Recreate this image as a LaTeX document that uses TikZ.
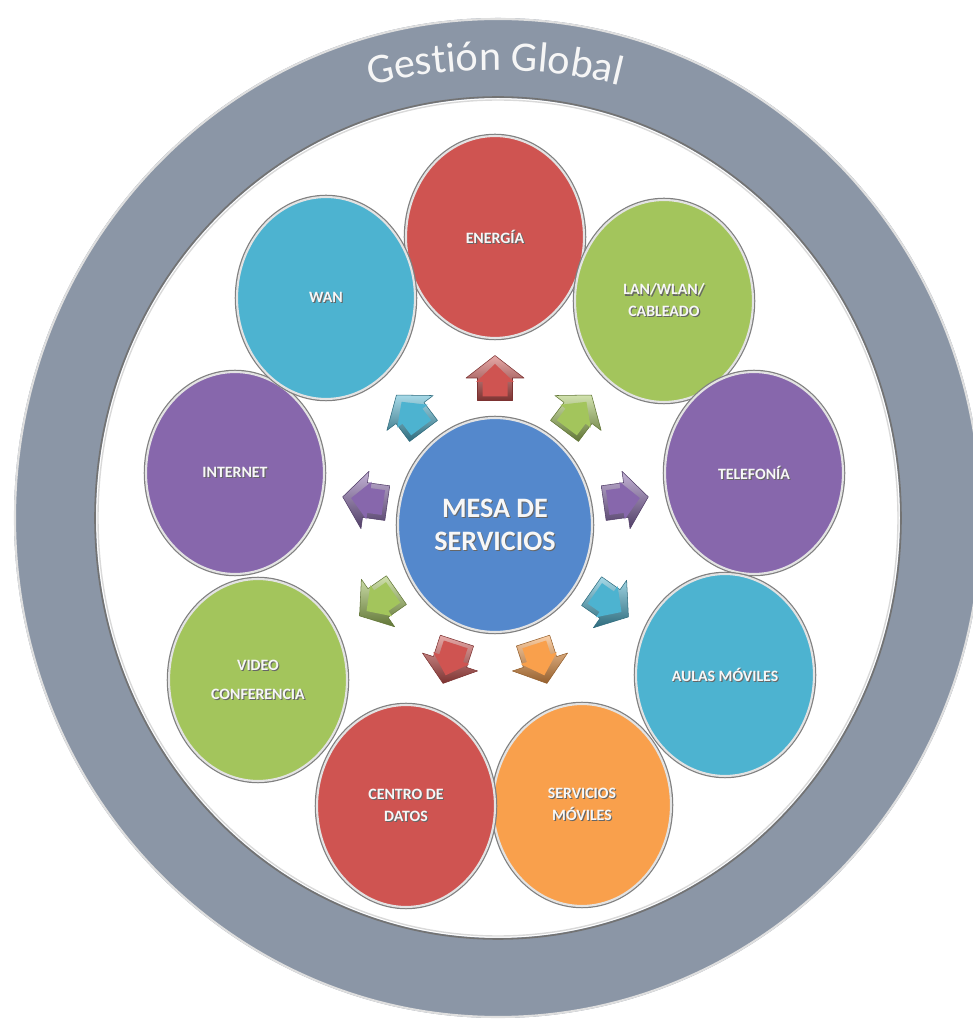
\documentclass[tikz,border=0pt]{standalone}
\usepackage{fontspec}
\setmainfont{Carlito}
\usetikzlibrary{shapes.geometric,decorations.text}
\definecolor{ringgray}{HTML}{8B96A6}
\definecolor{cred}{HTML}{CF5451}
\definecolor{cgreen}{HTML}{A3C55C}
\definecolor{cpurple}{HTML}{8767AC}
\definecolor{ccyan}{HTML}{4DB3D0}
\definecolor{corange}{HTML}{F9A04C}
\definecolor{cblue}{HTML}{5488CC}
\newcommand\shd[1]{\leavevmode\rlap{\kern0.6pt\raisebox{-0.6pt}{\textcolor{black!60}{#1}}}\textcolor{white!94!gray}{#1}}
\newcommand\blockarrow[4]{%
  \begin{scope}[shift={(#1,#2)}, rotate=#3]
    \path[top color=#4!50!white, bottom color=#4!60!black, draw=#4!60!black, line width=0.3pt, line join=round]
      (-22.5,-17.5) -- (0,-17.5) -- (0,-29) -- (22.5,0) -- (0,29) -- (0,17.5) -- (-22.5,17.5) -- cycle;
    \path[fill=#4]
      (-18.5,-12.5) -- (-4,-12.5) -- (-4,-19) -- (14,0) -- (-4,19) -- (-4,12.5) -- (-18.5,12.5) -- cycle;
  \end{scope}}
\tikzset{
  svc/.style={ellipse, inner sep=0pt, minimum width=3.56cm, minimum height=4.04cm,
    fill=#1, draw=white!78!gray, line width=1.2pt,
    preaction={draw=black!50, line width=2.6pt},
    font=\bfseries\fontsize{9}{12.5}\selectfont, align=center},
  hub/.style={ellipse, inner sep=0pt, minimum width=3.88cm, minimum height=4.28cm,
    fill=cblue, draw=white!78!gray, line width=1.2pt,
    preaction={draw=black!50, line width=2.6pt},
    font=\bfseries\fontsize{16}{18.7}\selectfont, align=center}
}
\begin{document}
\begin{tikzpicture}[x=0.02cm, y=0.02cm]
  \useasboundingbox (0,0) rectangle (973,1025);
  \clip (0,0) rectangle (973,1025);
  \fill[white] (0,0) rectangle (973,1025);
  % outer ring
  \path[fill=ringgray, even odd rule]
    (498,507) ellipse [x radius=484, y radius=500]
    (498,507) ellipse [x radius=402, y radius=420];
  \draw[white!75!gray, line width=1.2pt] (498,507) ellipse [x radius=483, y radius=499];
  \draw[black!55, line width=0.9pt] (498,507) ellipse [x radius=403, y radius=421];
  \draw[white!70!gray, line width=0.8pt] (498,507) ellipse [x radius=400, y radius=418];
  % title along the ring
  \path[decorate, decoration={text along path, text align=center,
      text={|\fontsize{24}{24}\selectfont\color{white!93!gray}|Gestión Global}}]
    (277.4,906.7) arc[start angle=115, end angle=65, radius=515];
  % block arrows
  \blockarrow{495}{647}{90}{cred}
  \blockarrow{410}{612}{127}{ccyan}
  \blockarrow{578}{612}{53}{cgreen}
  \blockarrow{626}{525}{8}{cpurple}
  \blockarrow{610}{421}{-35}{ccyan}
  \blockarrow{540}{363}{-72}{corange}
  \blockarrow{450}{363}{-108}{cred}
  \blockarrow{378}{422}{-145}{cgreen}
  \blockarrow{365}{525}{172}{cpurple}
  % service nodes
  \node[svc=cred]    (energia)  at (495,788) {\shd{ENERGÍA}};
  \node[svc=cgreen]  (lan)      at (664,724) {\shd{LAN/WLAN/}\\\shd{CABLEADO}};
  \node[svc=cpurple] (telefonia) at (754,552) {\shd{TELEFONÍA}};
  \node[svc=ccyan]   (aulas)    at (725,350) {\shd{AULAS MÓVILES}};
  \node[svc=corange] (servmov)  at (582,220) {\shd{SERVICIOS}\\\shd{MÓVILES}};
  \node[svc=cred]    (centro)   at (406,219) {\shd{CENTRO DE}\\\shd{DATOS}};
  \node[svc=cgreen, font=\bfseries\fontsize{9}{16.4}\selectfont] (video) at (258,345) {\shd{VIDEO}\\\shd{CONFERENCIA}};
  \node[svc=cpurple] (internet) at (235,552) {\shd{INTERNET}};
  \node[svc=ccyan]   (wan)      at (326,727) {\shd{WAN}};
  % hub
  \node[hub] (mesa) at (495,500) {\shd{MESA DE}\\\shd{SERVICIOS}};
\end{tikzpicture}
\end{document}
